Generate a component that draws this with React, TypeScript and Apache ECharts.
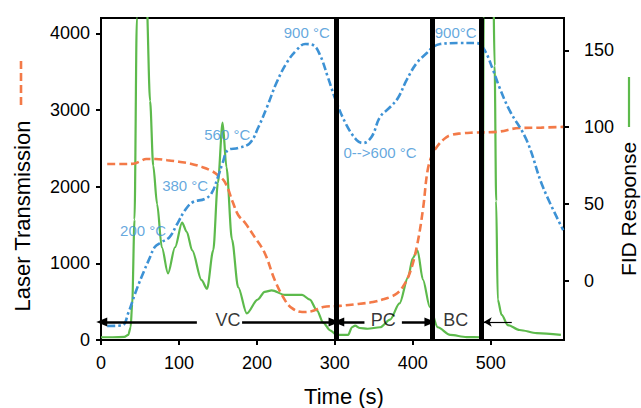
import React, { useEffect, useRef } from 'react';
import * as echarts from 'echarts';

// Laser transmission (left axis)
const laserTime = [8, 25, 42, 50, 58, 70, 85, 100, 115, 130, 142, 150, 159, 169, 176, 185, 197, 210, 223, 236, 245, 258, 270, 285, 306, 330, 349, 362, 372, 380, 387, 396, 405, 413, 419, 425, 431, 440, 448, 462, 477, 508, 537, 565, 593];
const laserValue = [2295, 2295, 2300, 2330, 2360, 2360, 2345, 2325, 2300, 2255, 2205, 2150, 2060, 1800, 1630, 1525, 1345, 1135, 780, 520, 415, 365, 375, 430, 445, 470, 495, 530, 565, 610, 690, 870, 1210, 1700, 2210, 2420, 2520, 2620, 2670, 2695, 2705, 2715, 2765, 2770, 2780];

// Temperature trace (plotted on left axis units)
const tempTime = [8, 27, 35, 44, 52, 63, 69, 78, 88, 97, 108, 118, 133, 142, 150, 156, 163, 176, 191, 202, 213, 225, 238, 251, 262, 272, 281, 291, 302, 315, 328, 336, 347, 358, 371, 381, 392, 405, 418, 426, 435, 460, 482, 492, 503, 511, 524, 546, 567, 593];
const tempValue = [183, 190, 352, 613, 822, 1082, 1213, 1278, 1343, 1500, 1695, 1800, 1839, 1917, 2126, 2308, 2478, 2504, 2569, 2778, 3039, 3351, 3612, 3782, 3860, 3847, 3717, 3430, 3104, 2804, 2608, 2569, 2647, 2908, 3039, 3156, 3390, 3612, 3743, 3821, 3860, 3873, 3873, 3782, 3521, 3300, 2999, 2608, 1995, 1434];

// FID response (right axis)
const fidTime = [0, 15, 30, 35, 38, 40, 43, 46, 52, 58, 63, 67, 72, 78, 86, 95, 104, 110, 117, 129, 136, 144, 150, 156, 161, 168, 176, 187, 201, 210, 219, 236, 258, 268, 277, 285, 294, 302, 317, 322, 326, 332, 342, 358, 371, 383, 394, 400, 406, 413, 422, 432, 448, 469, 488, 489.5, 491, 497, 503, 505, 507, 509, 514, 522, 537, 559, 590];
const fidValue = [-36.5, -36.5, -36.3, -35, -30, -15, 40, 171, 330, 190, 117, 75, 50, 22, 5, 22, 38, 32, 20, 0.6, -5, 20, 64, 103, 74, 27, -4, -21, -12, -7, -6, -9, -9, -12, -19, -27, -32, -35, -35, -30, -29, -30.5, -31, -30, -25, -14.5, 2.6, 15, 20, 1, -17, -30, -35, -36.4, -36.5, -20, 171, 320, 200, 140, 52, -12, -22, -28.6, -31.8, -33.8, -35];

// Axis ticks
const xTicks = [0, 100, 200, 300, 400, 500];
const leftTicks = [0, 1000, 2000, 3000, 4000];
const rightTicks = [0, 50, 100, 150];

// Phase boundaries (s)
const phaseBoundaries = [302, 425, 488];

// Temperature annotations
const tempLabels = ['200 °C', '380 °C', '560 °C', '900 °C', '0-->600 °C', '900°C'];
const tempLabelTime = [54, 108, 162, 264, 358, 455];
const tempLabelValue = [1434, 2021, 2686, 4016, 2451, 4016];

// Phase annotations
const phaseLabels = ['VC', 'PC', 'BC'];
const phaseLabelTime = [163, 362, 455];
const phaseLabelValue = [260, 260, 260];

// Arrows: [fromTime, toTime] at arrowLevel
const arrowLevel = 235;
const arrowFrom = [123, 181, 338, 386, 527];
const arrowTo = [1, 299, 305, 422, 491];
const arrowThin = [false, false, false, false, true];

const FONT = 'Liberation Sans, Arial, Helvetica, sans-serif';
const ORANGE = '#f37a48';
const BLUE = '#3d92d5';
const GREEN = '#5dba4c';

export default function App() {
  const ref = useRef<HTMLDivElement>(null);
  useEffect(() => {
    const chart = echarts.init(ref.current!, null, { renderer: 'svg' });
    const zip = (a: number[], b: number[]) => a.map((v, i) => [v, b[i]]);
    const plain = (v: number) => String(v);

    const arrowLines = arrowFrom.map((f, i) => [
      { coord: [f, arrowLevel], symbol: 'none' },
      {
        coord: [arrowTo[i], arrowLevel],
        symbol: arrowThin[i] ? 'arrow' : 'triangle',
        symbolSize: arrowThin[i] ? [7, 8] : [9, 11],
        lineStyle: { width: arrowThin[i] ? 1.2 : 2.5, color: '#000', type: 'solid' },
      },
    ]);
    const vLines = phaseBoundaries.map((x) => ({
      xAxis: x,
      lineStyle: { width: 5, color: '#000', type: 'solid' },
    }));

    const labelItems = [
      ...tempLabels.map((n, i) => ({
        value: [tempLabelTime[i], tempLabelValue[i]],
        name: n,
        label: { color: BLUE, fontSize: 15 },
      })),
      ...phaseLabels.map((n, i) => ({
        value: [phaseLabelTime[i], phaseLabelValue[i]],
        name: n,
        label: { color: '#000', fontSize: 18 },
      })),
    ];

    chart.setOption({
      animation: false,
      backgroundColor: '#fff',
      textStyle: { fontFamily: FONT },
      grid: {
        left: 101,
        right: 77,
        top: 18,
        bottom: 68,
        show: true,
        borderColor: '#000',
        borderWidth: 2,
        backgroundColor: 'transparent',
      },
      xAxis: {
        type: 'value',
        min: 0,
        max: 594,
        axisLine: { show: true, lineStyle: { color: '#000', width: 2 } },
        axisTick: { show: true, length: 5, lineStyle: { color: '#000', width: 2 }, customValues: xTicks },
        axisLabel: { color: '#000', fontSize: 18, fontFamily: FONT, margin: 14, customValues: xTicks, formatter: plain },
        splitLine: { show: false },
      },
      yAxis: [
        {
          type: 'value',
          min: 0,
          max: 4200,
          axisLine: { show: true, lineStyle: { color: '#000', width: 2 } },
          axisTick: { show: true, length: 5, lineStyle: { color: '#000', width: 2 }, customValues: leftTicks },
          axisLabel: { color: '#000', fontSize: 18, fontFamily: FONT, margin: 11, customValues: leftTicks, formatter: plain },
          splitLine: { show: false },
        },
        {
          type: 'value',
          position: 'right',
          min: -38.3,
          max: 171,
          axisLine: { show: true, lineStyle: { color: '#000', width: 2 } },
          axisTick: { show: true, length: 5, lineStyle: { color: '#000', width: 2 }, customValues: rightTicks },
          axisLabel: { color: '#000', fontSize: 18, fontFamily: FONT, margin: 20, customValues: rightTicks, formatter: plain },
          splitLine: { show: false },
        },
      ],
      series: [
        {
          name: 'FID Response',
          type: 'line',
          yAxisIndex: 1,
          data: zip(fidTime, fidValue),
          showSymbol: false,
          smooth: 0.3,
          smoothMonotone: 'x',
          clip: true,
          lineStyle: { color: GREEN, width: 2.2 },
          z: 2,
        },
        {
          name: 'Laser Transmission',
          type: 'line',
          yAxisIndex: 0,
          data: zip(laserTime, laserValue),
          showSymbol: false,
          smooth: 0.4,
          clip: true,
          lineStyle: { color: ORANGE, width: 2.6, type: [8, 4] },
          z: 3,
        },
        {
          name: 'Temperature',
          type: 'line',
          yAxisIndex: 0,
          data: zip(tempTime, tempValue),
          showSymbol: false,
          smooth: 0.4,
          clip: true,
          lineStyle: { color: BLUE, width: 2.6, type: [8, 3, 2.5, 3] },
          z: 4,
          markLine: {
            silent: true,
            symbol: ['none', 'none'],
            label: { show: false },
            data: [...vLines, ...arrowLines],
            z: 10,
          },
        },
        {
          name: 'labels',
          type: 'scatter',
          yAxisIndex: 0,
          symbolSize: 1,
          itemStyle: { color: 'rgba(0,0,0,0)' },
          data: labelItems,
          label: {
            show: true,
            position: 'inside',
            formatter: (p: any) => p.name,
            fontFamily: FONT,
          },
          z: 12,
        },
      ],
      graphic: [
        {
          type: 'text',
          x: 22,
          y: 216,
          rotation: Math.PI / 2,
          style: { text: 'Laser Transmission', font: `22px ${FONT}`, fill: '#000', align: 'center', verticalAlign: 'middle' },
        },
        {
          type: 'line',
          shape: { x1: 21, y1: 61, x2: 21, y2: 108 },
          style: { stroke: ORANGE, lineWidth: 2.6, lineDash: [8, 4] },
        },
        {
          type: 'text',
          x: 628,
          y: 209,
          rotation: Math.PI / 2,
          style: { text: 'FID Response', font: `21px ${FONT}`, fill: '#000', align: 'center', verticalAlign: 'middle' },
        },
        {
          type: 'line',
          shape: { x1: 629, y1: 77, x2: 629, y2: 127 },
          style: { stroke: GREEN, lineWidth: 2.2 },
        },
        {
          type: 'text',
          x: 344,
          y: 396,
          style: { text: 'Time (s)', font: `22px ${FONT}`, fill: '#000', align: 'center', verticalAlign: 'middle' },
        },
      ],
    });
    return () => chart.dispose();
  }, []);
  return (
    <div
      ref={ref}
      style={{ position: 'fixed', left: 0, top: 0, width: 641, height: 408, background: '#fff' }}
    />
  );
}
